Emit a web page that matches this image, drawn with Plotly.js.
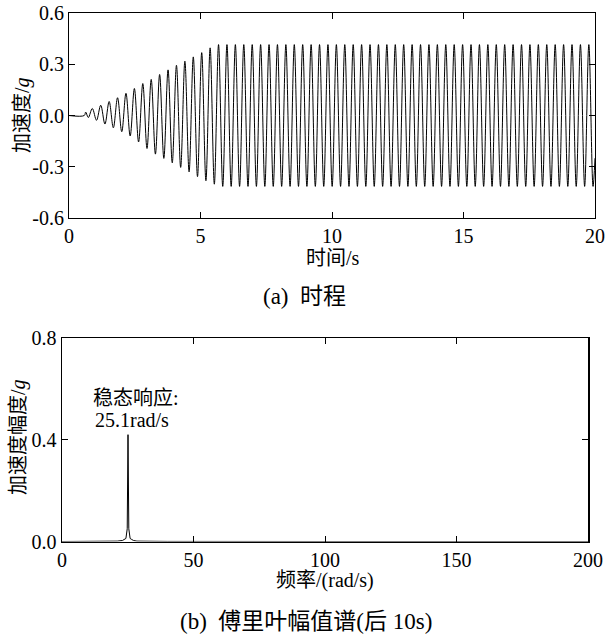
<!DOCTYPE html>
<html>
<head>
<meta charset="utf-8">
<script src="https://cdn.plot.ly/plotly-3.0.1.min.js"></script>
<style>html,body{margin:0;padding:0;background:#fff;}#chart{width:608px;height:641px;}</style>
</head>
<body>
<div id="chart"></div>
<script>
// ---- (a) time history: start segment, then extrema ----
var startTime = [0, 0.58, 0.635, 0.734];
var startAcc  = [0, 0, 0.02, -0.012];

var peakTime = [0.886, 1.206, 1.526, 1.846, 2.166, 2.486, 2.806, 3.126, 3.446, 3.766,
  4.086, 4.406, 4.726, 5.046, 5.366, 5.686, 6.006, 6.326, 6.646, 6.966,
  7.286, 7.606, 7.926, 8.246, 8.566, 8.886, 9.206, 9.526, 9.846, 10.166,
  10.486, 10.806, 11.126, 11.446, 11.766, 12.086, 12.406, 12.726, 13.046, 13.366,
  13.686, 14.006, 14.326, 14.646, 14.966, 15.286, 15.606, 15.926, 16.246, 16.566,
  16.886, 17.206, 17.526, 17.846, 18.166, 18.486, 18.806, 19.126, 19.446, 19.766];
var peakAcc = [0.041, 0.06, 0.082, 0.104, 0.13, 0.158, 0.187, 0.211, 0.24, 0.267,
  0.294, 0.318, 0.343, 0.368, 0.396, 0.415, 0.415, 0.415, 0.415, 0.415,
  0.415, 0.415, 0.415, 0.415, 0.415, 0.415, 0.415, 0.415, 0.415, 0.415,
  0.415, 0.415, 0.415, 0.415, 0.415, 0.415, 0.415, 0.415, 0.415, 0.415,
  0.415, 0.415, 0.415, 0.415, 0.415, 0.415, 0.415, 0.415, 0.415, 0.415,
  0.415, 0.415, 0.415, 0.415, 0.415, 0.415, 0.415, 0.415, 0.415, 0.415];

var troughTime = [1.046, 1.366, 1.686, 2.006, 2.326, 2.646, 2.966, 3.286, 3.606, 3.926,
  4.246, 4.566, 4.886, 5.206, 5.526, 5.846, 6.166, 6.486, 6.806, 7.126,
  7.446, 7.766, 8.086, 8.406, 8.726, 9.046, 9.366, 9.686, 10.006, 10.326,
  10.646, 10.966, 11.286, 11.606, 11.926, 12.246, 12.566, 12.886, 13.206, 13.526,
  13.846, 14.166, 14.486, 14.806, 15.126, 15.446, 15.766, 16.086, 16.406, 16.726,
  17.046, 17.366, 17.686, 18.006, 18.326, 18.646, 18.966, 19.286, 19.606, 19.926];
var troughAcc = [-0.028, -0.05, -0.072, -0.095, -0.12, -0.155, -0.193, -0.226, -0.251, -0.277,
  -0.304, -0.33, -0.358, -0.382, -0.402, -0.415, -0.415, -0.415, -0.415, -0.415,
  -0.415, -0.415, -0.415, -0.415, -0.415, -0.415, -0.415, -0.415, -0.415, -0.415,
  -0.415, -0.415, -0.415, -0.415, -0.415, -0.415, -0.415, -0.415, -0.415, -0.415,
  -0.415, -0.415, -0.415, -0.415, -0.415, -0.415, -0.415, -0.415, -0.415, -0.415,
  -0.415, -0.415, -0.415, -0.415, -0.415, -0.415, -0.415, -0.415, -0.415, -0.415];

var endTime = [20];
var endAcc = [-0.25];

// ---- (b) Fourier amplitude spectrum ----
var freq = [0, 10, 18, 21, 23, 23.7, 24.3, 24.8, 25.1, 25.4, 25.9, 26.5, 27.2, 28.5, 32, 40, 100, 200];
var ampl = [0, 0.0003, 0.0008, 0.0015, 0.004, 0.008, 0.012, 0.05, 0.42, 0.05, 0.012, 0.008, 0.004, 0.0015, 0.0008, 0.0003, 0, 0];

// tick values / labels
var xTicksA = [0, 5, 10, 15, 20];
var yTicksA = [-0.6, -0.3, 0, 0.3, 0.6];
var yTickTextA = ['-0.6', '-0.3', '0.0', '0.3', '0.6'];
var xTicksB = [0, 50, 100, 150, 200];
var yTicksB = [0, 0.4, 0.8];
var yTickTextB = ['0.0', '0.4', '0.8'];

// build combined time series (alternating extrema)
var tAll = startTime.slice(), aAll = startAcc.slice();
for (var i = 0; i < peakTime.length; i++) {
  tAll.push(peakTime[i]); aAll.push(peakAcc[i]);
  tAll.push(troughTime[i]); aAll.push(troughAcc[i]);
}
tAll = tAll.concat(endTime); aAll = aAll.concat(endAcc);

var FONT = 'Liberation Serif, Times New Roman, Noto Sans CJK SC, serif';

var traces = [
  {x: tAll, y: aAll, type: 'scatter', mode: 'lines', xaxis: 'x', yaxis: 'y',
   line: {color: '#000', width: 1, shape: 'spline', smoothing: 1}, hoverinfo: 'skip'},
  {x: freq, y: ampl, type: 'scatter', mode: 'lines', xaxis: 'x2', yaxis: 'y2',
   line: {color: '#000', width: 1}, hoverinfo: 'skip'}
];

function axisCommon(extra) {
  var a = {
    showgrid: false, zeroline: false, showline: true, mirror: 'ticks',
    linecolor: '#000', linewidth: 1, ticks: 'inside', ticklen: 6, tickwidth: 1,
    tickcolor: '#000', tickfont: {family: FONT, size: 20, color: '#000'},
    automargin: false, fixedrange: true
  };
  for (var k in extra) a[k] = extra[k];
  return a;
}

var layout = {
  width: 608, height: 641,
  margin: {l: 0, r: 0, t: 0, b: 0},
  paper_bgcolor: '#fff', plot_bgcolor: '#fff',
  showlegend: false,
  font: {family: FONT, size: 20, color: '#000'},
  xaxis: axisCommon({domain: [69/608, 595/608], range: [0, 20], tickvals: xTicksA, anchor: 'y'}),
  yaxis: axisCommon({domain: [423/641, 628/641], range: [-0.6, 0.6], tickvals: yTicksA, ticktext: yTickTextA, anchor: 'x'}),
  xaxis2: axisCommon({domain: [62/608, 588/608], range: [0, 200], tickvals: xTicksB, anchor: 'y2', linewidth: 1.5}),
  yaxis2: axisCommon({domain: [99.5/641, 303/641], range: [0, 0.8], tickvals: yTicksB, ticktext: yTickTextB, anchor: 'x2', linewidth: 1.5}),
  annotations: [
    {xref: 'paper', yref: 'paper', x: 333/608, y: 1 - 258/641, text: '时间/s', showarrow: false,
     xanchor: 'center', yanchor: 'middle', font: {family: FONT, size: 20}},
    {xref: 'paper', yref: 'paper', x: 22/608, y: 1 - 115/641, text: '加速度/<i>g</i>', showarrow: false,
     textangle: -90, xanchor: 'center', yanchor: 'middle', font: {family: FONT, size: 20}},
    {xref: 'paper', yref: 'paper', x: 304/608, y: 1 - 297/641, text: '(a)  时程', showarrow: false,
     xanchor: 'center', yanchor: 'middle', font: {family: FONT, size: 23}},
    {xref: 'paper', yref: 'paper', x: 325/608, y: 1 - 580/641, text: '频率/(rad/s)', showarrow: false,
     xanchor: 'center', yanchor: 'middle', font: {family: FONT, size: 20}},
    {xref: 'paper', yref: 'paper', x: 18/608, y: 1 - 437/641, text: '加速度幅度/<i>g</i>', showarrow: false,
     textangle: -90, xanchor: 'center', yanchor: 'middle', font: {family: FONT, size: 20}},
    {xref: 'paper', yref: 'paper', x: 306/608, y: 1 - 621/641, text: '(b)  傅里叶幅值谱(后 10s)', showarrow: false,
     xanchor: 'center', yanchor: 'middle', font: {family: FONT, size: 23}},
    {xref: 'x2', yref: 'y2', x: 28, y: 0.566, text: '稳态响应:', showarrow: false,
     xanchor: 'center', yanchor: 'middle', font: {family: FONT, size: 20}},
    {xref: 'x2', yref: 'y2', x: 26.8, y: 0.479, text: '25.1rad/s', showarrow: false,
     xanchor: 'center', yanchor: 'middle', font: {family: FONT, size: 20}}
  ]
};

Plotly.newPlot('chart', traces, layout, {displayModeBar: false, staticPlot: true});
</script>
</body>
</html>
